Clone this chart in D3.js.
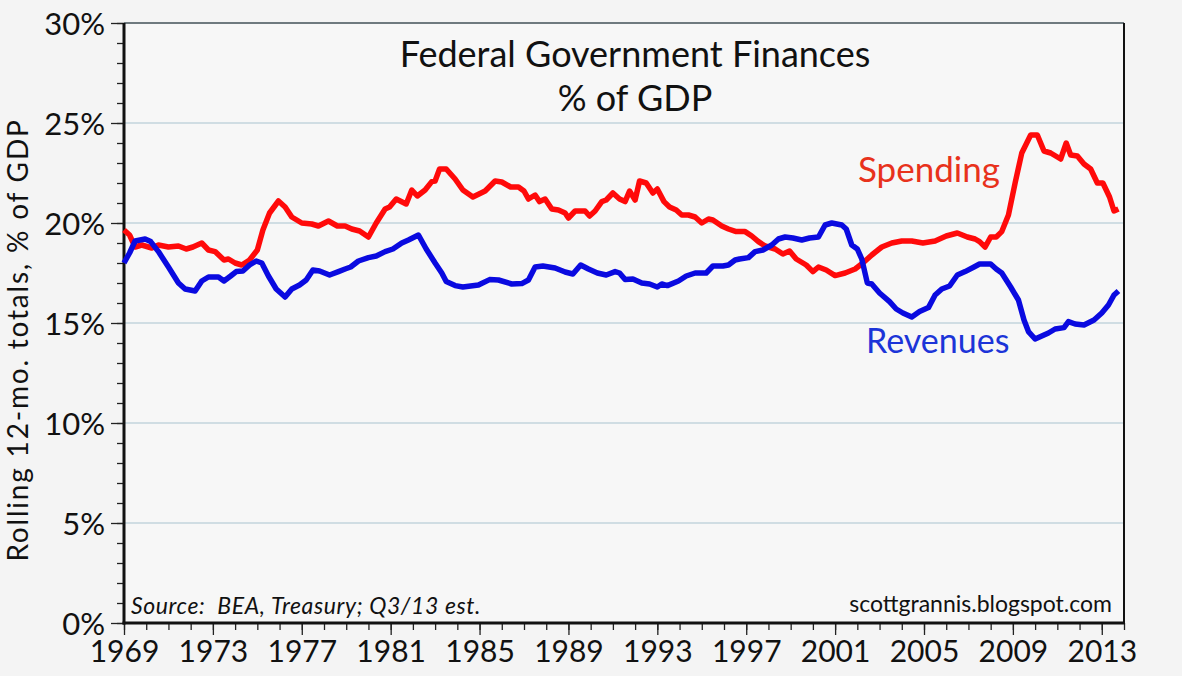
<!DOCTYPE html>
<html>
<head>
<meta charset="utf-8">
<script src="https://cdn.jsdelivr.net/npm/d3@7"></script>
<style>
  html, body { margin: 0; padding: 0; background: #f4f4f4; }
  svg { display: block; }
  text { font-family: Lato, "Open Sans", sans-serif; fill: #111; }
</style>
</head>
<body>
<svg id="chart" width="1182" height="676"></svg>
<script>
// ---- Data ----
const titleLines = ["Federal Government Finances", "% of GDP"];
const yTicks = [0, 5, 10, 15, 20, 25, 30];
const xTickYears = [1969, 1973, 1977, 1981, 1985, 1989, 1993, 1997, 2001, 2005, 2009, 2013];
const seriesNames = ["Spending", "Revenues"];

const spending = [[1969.0,19.65],[1969.25,19.4],[1969.5,18.8],[1969.8,18.9],[1970.25,18.75],[1970.55,18.9],[1971.0,18.8],[1971.45,18.85],[1971.8,18.7],[1972.1,18.8],[1972.5,19.0],[1972.8,18.65],[1973.1,18.57],[1973.5,18.15],[1973.7,18.2],[1974.0,18.0],[1974.3,17.9],[1974.65,18.15],[1975.0,18.65],[1975.25,19.65],[1975.55,20.5],[1975.95,21.1],[1976.25,20.8],[1976.55,20.3],[1977.0,20.0],[1977.45,19.95],[1977.75,19.85],[1978.2,20.1],[1978.6,19.85],[1978.95,19.85],[1979.25,19.7],[1979.6,19.6],[1980.0,19.3],[1980.35,20.0],[1980.75,20.7],[1980.95,20.8],[1981.25,21.2],[1981.7,20.95],[1981.95,21.65],[1982.2,21.35],[1982.55,21.65],[1982.85,22.07],[1983.0,22.1],[1983.2,22.7],[1983.5,22.7],[1983.9,22.2],[1984.25,21.65],[1984.7,21.3],[1985.25,21.6],[1985.7,22.1],[1986.0,22.05],[1986.4,21.8],[1986.75,21.8],[1987.0,21.6],[1987.2,21.2],[1987.5,21.4],[1987.7,21.07],[1987.95,21.2],[1988.25,20.7],[1988.55,20.65],[1988.85,20.5],[1989.0,20.25],[1989.3,20.6],[1989.75,20.6],[1989.95,20.35],[1990.2,20.6],[1990.5,21.07],[1990.7,21.15],[1991.0,21.5],[1991.3,21.2],[1991.55,21.07],[1991.75,21.6],[1992.0,21.15],[1992.2,22.1],[1992.5,22.0],[1992.8,21.5],[1993.0,21.7],[1993.3,21.07],[1993.55,20.8],[1993.85,20.65],[1994.1,20.4],[1994.4,20.4],[1994.7,20.3],[1995.0,20.0],[1995.3,20.2],[1995.5,20.15],[1995.9,19.85],[1996.2,19.7],[1996.55,19.57],[1996.95,19.57],[1997.25,19.35],[1997.55,19.07],[1997.85,18.85],[1998.3,18.7],[1998.65,18.45],[1998.95,18.6],[1999.25,18.2],[1999.7,17.9],[2000.0,17.57],[2000.25,17.8],[2000.6,17.65],[2001.0,17.37],[2001.45,17.5],[2001.9,17.7],[2002.25,18.0],[2002.65,18.4],[2003.1,18.8],[2003.55,19.0],[2004.0,19.1],[2004.45,19.1],[2004.95,19.0],[2005.5,19.1],[2006.0,19.35],[2006.5,19.5],[2006.95,19.3],[2007.3,19.2],[2007.5,19.07],[2007.75,18.8],[2008.0,19.3],[2008.25,19.3],[2008.5,19.57],[2008.8,20.4],[2009.1,22.0],[2009.4,23.5],[2009.8,24.4],[2010.1,24.4],[2010.4,23.6],[2010.7,23.5],[2011.15,23.2],[2011.4,24.0],[2011.6,23.4],[2011.9,23.35],[2012.2,22.95],[2012.5,22.7],[2012.8,22.0],[2013.05,22.0],[2013.35,21.3],[2013.55,20.6],[2013.75,20.7]];

const revenues = [[1969.0,18.0],[1969.25,18.5],[1969.5,19.1],[1969.95,19.2],[1970.2,19.07],[1970.55,18.57],[1971.0,17.8],[1971.45,17.0],[1971.75,16.7],[1972.2,16.6],[1972.5,17.1],[1972.8,17.3],[1973.25,17.3],[1973.5,17.1],[1973.8,17.35],[1974.05,17.57],[1974.35,17.6],[1974.65,17.9],[1974.95,18.1],[1975.2,18.0],[1975.5,17.35],[1975.85,16.7],[1976.25,16.3],[1976.55,16.7],[1976.9,16.9],[1977.2,17.15],[1977.5,17.65],[1977.8,17.6],[1978.25,17.4],[1978.65,17.57],[1978.95,17.7],[1979.2,17.8],[1979.55,18.1],[1980.0,18.27],[1980.35,18.35],[1980.75,18.57],[1981.1,18.7],[1981.5,19.0],[1981.8,19.15],[1982.25,19.4],[1982.6,18.7],[1983.0,18.0],[1983.3,17.5],[1983.5,17.07],[1983.9,16.87],[1984.25,16.8],[1984.95,16.9],[1985.45,17.17],[1985.85,17.15],[1986.45,16.95],[1986.9,16.97],[1987.2,17.15],[1987.5,17.8],[1987.85,17.85],[1988.4,17.75],[1988.85,17.55],[1989.2,17.45],[1989.55,17.9],[1989.9,17.7],[1990.3,17.5],[1990.7,17.4],[1991.1,17.57],[1991.3,17.5],[1991.55,17.17],[1991.9,17.2],[1992.3,17.0],[1992.65,16.95],[1993.0,16.8],[1993.2,16.95],[1993.45,16.87],[1993.95,17.1],[1994.3,17.35],[1994.7,17.5],[1995.2,17.5],[1995.5,17.85],[1995.95,17.85],[1996.2,17.9],[1996.5,18.15],[1996.7,18.2],[1997.1,18.27],[1997.4,18.57],[1997.75,18.65],[1998.15,18.9],[1998.45,19.2],[1998.75,19.3],[1999.1,19.25],[1999.5,19.15],[1999.85,19.25],[2000.25,19.3],[2000.55,19.9],[2000.85,20.0],[2001.3,19.9],[2001.5,19.7],[2001.75,18.9],[2002.0,18.7],[2002.2,18.2],[2002.45,17.0],[2002.65,16.95],[2003.0,16.5],[2003.45,16.07],[2003.75,15.7],[2004.05,15.5],[2004.45,15.3],[2004.8,15.57],[2005.2,15.77],[2005.5,16.4],[2005.8,16.7],[2006.15,16.85],[2006.5,17.4],[2006.85,17.57],[2007.25,17.8],[2007.5,17.95],[2008.0,17.95],[2008.25,17.7],[2008.5,17.5],[2008.9,16.8],[2009.25,16.15],[2009.5,15.15],[2009.7,14.57],[2010.0,14.2],[2010.3,14.35],[2010.6,14.5],[2010.9,14.7],[2011.3,14.77],[2011.5,15.07],[2011.8,14.95],[2012.2,14.9],[2012.65,15.15],[2013.0,15.5],[2013.3,15.9],[2013.55,16.4],[2013.75,16.6]];

const yAxisTitle = "Rolling 12-mo. totals, % of GDP";
const sourceNote = "Source:  BEA, Treasury; Q3/13 est.";
const creditNote = "scottgrannis.blogspot.com";

// ---- Layout ----
const svg = d3.select("#chart");
const L = 124, R = 1124, T = 23, B = 623;

const x = d3.scaleLinear().domain([1969, 2014]).range([L, R]);
const y = d3.scaleLinear().domain([0, 30]).range([B, T]);

// plot background
svg.append("rect").attr("x", L).attr("y", T).attr("width", R - L).attr("height", B - T)
  .attr("fill", "#f7f7f7");

// gridlines
svg.append("g").selectAll("line").data(yTicks.filter(v => v > 0 && v < 30)).join("line")
  .attr("x1", L).attr("x2", R).attr("y1", d => y(d)).attr("y2", d => y(d))
  .attr("stroke", "#a9c3d0").attr("stroke-width", 1.2);

// top border (30%) and right border
svg.append("line").attr("x1", L).attr("x2", R).attr("y1", y(30)).attr("y2", y(30))
  .attr("stroke", "#6f7a7f").attr("stroke-width", 2);
svg.append("line").attr("x1", R).attr("x2", R).attr("y1", T).attr("y2", B)
  .attr("stroke", "#111").attr("stroke-width", 2);

// Y axis
const yMinor = d3.range(0, 31, 1);
const yAxisMinor = d3.axisLeft(y).tickValues(yMinor).tickSize(7).tickFormat("");
const gyMinor = svg.append("g").attr("transform", `translate(${L},0)`).call(yAxisMinor);
const yAxis = d3.axisLeft(y).tickValues(yTicks).tickSize(13).tickPadding(6).tickFormat(d => d + "%");
const gy = svg.append("g").attr("transform", `translate(${L},0)`).call(yAxis);
[gyMinor, gy].forEach(g => {
  g.select(".domain").remove();
  g.selectAll(".tick line").attr("stroke", "#222").attr("stroke-width", 1.3);
});
gy.selectAll(".tick text").attr("font-size", 31).attr("fill", "#111")
  .attr("font-family", "Lato, sans-serif").attr("dy", "0.36em");

// X axis
const xMinor = d3.range(1969, 2015, 1);
const xAxisMinor = d3.axisBottom(x).tickValues(xMinor).tickSize(7).tickFormat("");
const gxMinor = svg.append("g").attr("transform", `translate(0,${B})`).call(xAxisMinor);
const xAxis = d3.axisBottom(x).tickValues(xTickYears).tickSize(12).tickPadding(6).tickFormat(d3.format("d"));
const gx = svg.append("g").attr("transform", `translate(0,${B})`).call(xAxis);
[gxMinor, gx].forEach(g => {
  g.select(".domain").remove();
  g.selectAll(".tick line").attr("stroke", "#222").attr("stroke-width", 1.3);
});
gx.selectAll(".tick text").attr("font-size", 30).attr("fill", "#111")
  .attr("font-family", "Lato, sans-serif");

// axis lines (left and bottom)
svg.append("line").attr("x1", L).attr("x2", L).attr("y1", T).attr("y2", B + 1.5)
  .attr("stroke", "#111").attr("stroke-width", 3);
svg.append("line").attr("x1", L - 1.5).attr("x2", R + 1).attr("y1", B).attr("y2", B)
  .attr("stroke", "#111").attr("stroke-width", 3);

// Lines
const line = d3.line().x(d => x(d[0])).y(d => y(d[1]));
const seriesData = [spending, revenues];
const seriesColors = ["#ff0a0a", "#0a0ae0"];
svg.append("g").selectAll("path").data(seriesData).join("path")
  .attr("d", line).attr("fill", "none")
  .attr("stroke", (d, i) => seriesColors[i]).attr("stroke-width", 5.5)
  .attr("stroke-linejoin", "round").attr("stroke-linecap", "butt");

// Title
svg.append("text").attr("x", 635).attr("y", 67).attr("text-anchor", "middle")
  .attr("font-size", 36).text(titleLines[0]);
svg.append("text").attr("x", 635).attr("y", 111).attr("text-anchor", "middle")
  .attr("font-size", 36).text(titleLines[1]);

// Series labels
svg.append("text").attr("x", 858).attr("y", 182).attr("font-size", 35)
  .style("fill", "#e8321c").text(seriesNames[0]);
svg.append("text").attr("x", 866).attr("y", 353).attr("font-size", 34)
  .style("fill", "#1c34d8").text(seriesNames[1]);

// Y axis title
svg.append("text").attr("transform", "translate(28,340) rotate(-90)")
  .attr("text-anchor", "middle").attr("font-size", 28)
  .style("letter-spacing", "1.8px").text(yAxisTitle);

// notes
svg.append("text").attr("x", 131).attr("y", 614).attr("font-size", 23)
  .attr("font-style", "italic").style("white-space", "pre")
  .style("letter-spacing", "0.6px").text(sourceNote);
svg.append("text").attr("x", 1112).attr("y", 612).attr("text-anchor", "end")
  .attr("font-size", 23).text(creditNote);
</script>
</body>
</html>
